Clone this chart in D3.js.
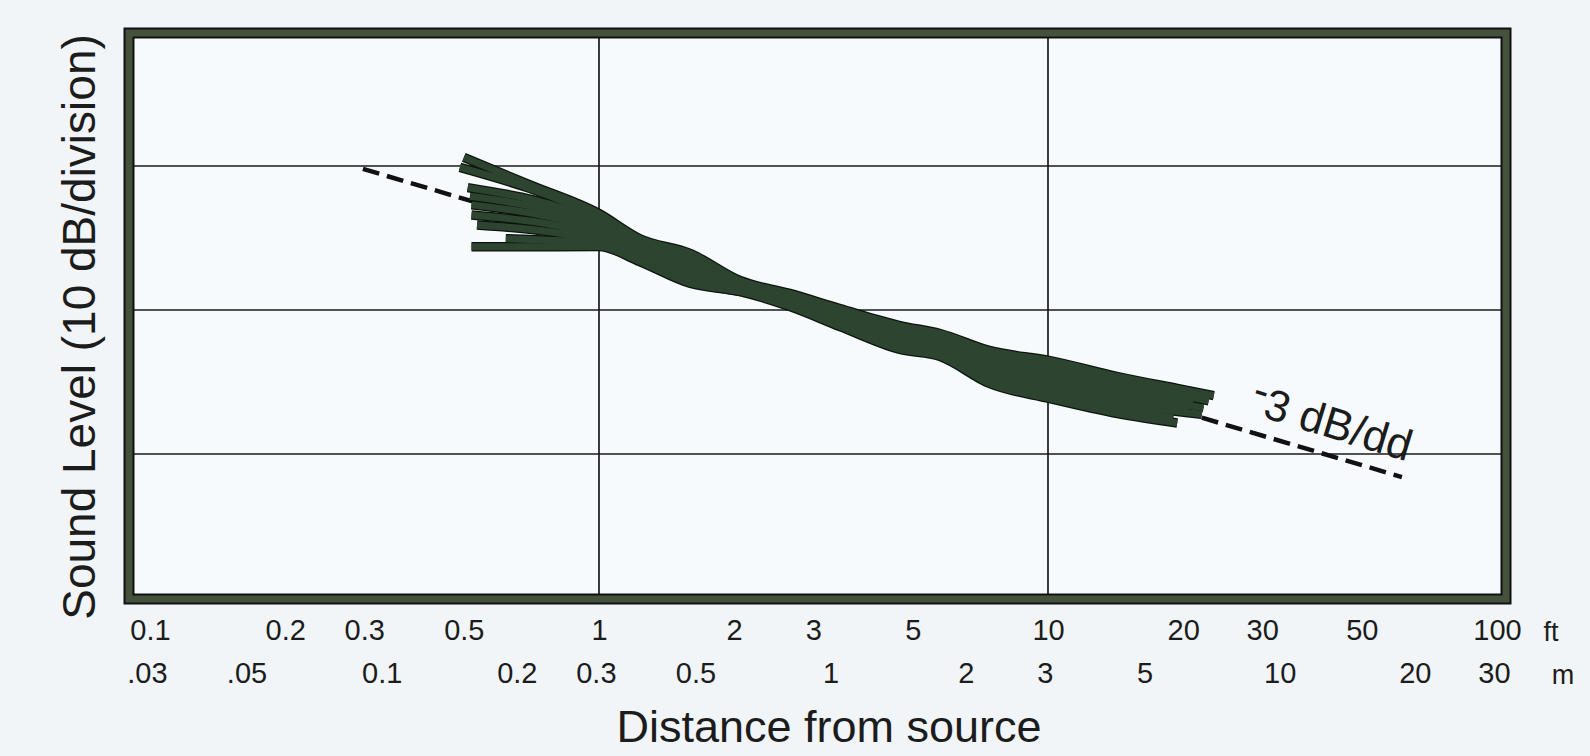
<!DOCTYPE html>
<html>
<head>
<script src="https://d3js.org/d3.v7.min.js"></script>
<style>
  html, body { margin: 0; padding: 0; overflow: hidden; background: #f1f5f8; }
  svg text { font-family: "Liberation Sans", Arial, sans-serif; fill: #1c1c1c; }
</style>
</head>
<body>
<svg id="chart" width="1590" height="756"></svg>
<script>
// tick labels (ft on top row, metres below)
const ftTicks = [0.1, 0.2, 0.3, 0.5, 1, 2, 3, 5, 10, 20, 30, 50, 100];
const ftLabels = ["0.1", "0.2", "0.3", "0.5", "1", "2", "3", "5", "10", "20", "30", "50", "100"];
const mTicks = [0.03, 0.05, 0.1, 0.2, 0.3, 0.5, 1, 2, 3, 5, 10, 20, 30];
const mLabels = [".03", ".05", "0.1", "0.2", "0.3", "0.5", "1", "2", "3", "5", "10", "20", "30"];
const levelGrid = [60, 70, 80];
const distGrid = [1, 10];

// measured curves: [distance ft, level dB]
const curveA = [[0.50, 80.6], [0.7, 78.7], [1.0, 76.7], [1.23, 74.97], [1.6, 73.92], [2.06, 72.05], [2.66, 71.15], [3.44, 70.10], [4.68, 68.92], [5.75, 68.37], [7.4, 67.19], [10.1, 66.49], [14.3, 65.38], [19.4, 64.55], [23.4, 64.05]];
const curveB = [[0.49, 79.9], [1.0, 76.38], [1.23, 74.74], [1.6, 73.63], [2.06, 71.94], [2.66, 71.02], [3.44, 69.93], [4.68, 68.69], [5.75, 68.15], [7.4, 66.87], [10.1, 66.12], [14.3, 65.02], [22.8, 63.7]];
const curveC = [[0.51, 78.5], [1.0, 76.06], [1.23, 74.52], [1.6, 73.34], [2.06, 71.83], [2.66, 70.90], [3.44, 69.76], [4.68, 68.46], [5.75, 67.92], [7.4, 66.55], [10.1, 65.76], [14.3, 64.66], [21.0, 63.45]];
const curveD = [[0.516, 77.9], [1.0, 75.74], [1.23, 74.29], [1.6, 73.05], [2.06, 71.73], [2.66, 70.76], [3.44, 69.58], [4.68, 68.22], [5.75, 67.69], [7.4, 66.22], [10.1, 65.38], [14.3, 64.29], [22.2, 63.2]];
const curveE = [[0.52, 77.3], [1.0, 75.40], [1.23, 74.06], [1.6, 72.74], [2.06, 71.61], [2.66, 70.63], [3.44, 69.39], [4.68, 67.97], [5.75, 67.46], [7.4, 65.88], [10.1, 64.99], [14.3, 63.92], [20.5, 62.95]];
const curveF = [[0.52, 76.6], [1.0, 75.08], [1.23, 73.83], [1.6, 72.44], [2.06, 71.51], [2.66, 70.51], [3.44, 69.22], [4.68, 67.74], [5.75, 67.24], [7.4, 65.56], [10.1, 64.62], [14.3, 63.56], [22.0, 62.75]];
const curveG = [[0.535, 75.9], [1.0, 74.75], [1.23, 73.60], [1.6, 72.15], [2.06, 71.40], [2.66, 70.37], [3.44, 69.04], [4.68, 67.51], [5.75, 67.01], [7.4, 65.24], [10.1, 64.25], [14.3, 63.19], [19.0, 62.5]];
const curveH = [[0.52, 74.4], [0.8, 74.4], [1.0, 74.41], [1.23, 73.37], [1.6, 71.84], [2.06, 71.28], [2.66, 70.24], [3.44, 68.85], [4.68, 67.26], [5.75, 66.77], [7.4, 64.90], [10.1, 63.85], [14.3, 62.81], [19.4, 62.15]];
const curveI = [[0.62, 74.95], [1.0, 74.6], [1.23, 73.5], [1.6, 72.0], [2.06, 71.3]];
const curves = [curveA, curveB, curveC, curveD, curveE, curveF, curveG, curveH, curveI];

// -3 dB per doubling reference
const refLine = [[0.298, 79.8], [61.4, 58.4]];

const svg = d3.select("#chart");
const frame = { left: 129, top: 33, right: 1506, bottom: 599 };

const x = d3.scaleLog().domain([1, 10]).range([599, 1048]);
const xm = d3.scaleLog().domain([1 / 3.2808, 10 / 3.2808]).range([599, 1048]);
const y = d3.scaleLinear().domain([60, 80]).range([454, 166]);

// plot background
svg.append("rect")
  .attr("x", frame.left).attr("y", frame.top)
  .attr("width", frame.right - frame.left).attr("height", frame.bottom - frame.top)
  .attr("fill", "#f7fafc");

svg.append("clipPath").attr("id", "clip")
  .append("rect")
  .attr("x", frame.left + 5).attr("y", frame.top + 5)
  .attr("width", frame.right - frame.left - 10).attr("height", frame.bottom - frame.top - 10);

const plot = svg.append("g").attr("clip-path", "url(#clip)");

// grid
plot.selectAll(".hgrid").data(levelGrid).enter().append("line")
  .attr("x1", frame.left).attr("x2", frame.right)
  .attr("y1", d => y(d)).attr("y2", d => y(d))
  .attr("stroke", "#1a1a1a").attr("stroke-width", 1.7);
plot.selectAll(".vgrid").data(distGrid).enter().append("line")
  .attr("y1", frame.top).attr("y2", frame.bottom)
  .attr("x1", d => x(d)).attr("x2", d => x(d))
  .attr("stroke", "#1a1a1a").attr("stroke-width", 1.7);

// reference dashed line
const line = d3.line().x(d => x(d[0])).y(d => y(d[1]));
plot.append("path").datum(refLine)
  .attr("d", line)
  .attr("fill", "none").attr("stroke", "#111")
  .attr("stroke-width", 4.5).attr("stroke-dasharray", "17,8");

// bundle of measured curves: dark outline first, fill colour on top
const curveLine = d3.line().x(d => x(d[0])).y(d => y(d[1])).curve(d3.curveMonotoneX);
plot.append("g").selectAll("path").data(curves).enter().append("path")
  .attr("d", curveLine)
  .attr("fill", "none").attr("stroke", "#0d140d")
  .attr("stroke-width", 9.5);
plot.append("g").selectAll("path").data(curves).enter().append("path")
  .attr("d", curveLine)
  .attr("fill", "none").attr("stroke", "#2d4530")
  .attr("stroke-width", 7);

// label on the reference line
const lab = svg.append("text")
  .attr("transform", "translate(1327,437) rotate(17)")
  .attr("text-anchor", "middle")
  .attr("font-size", 44);
lab.append("tspan").attr("dy", -11).text("-");
lab.append("tspan").attr("dy", 11).text("3 dB/dd");

// frame
svg.append("rect")
  .attr("x", frame.left).attr("y", frame.top)
  .attr("width", frame.right - frame.left).attr("height", frame.bottom - frame.top)
  .attr("fill", "none").attr("stroke", "#111").attr("stroke-width", 11);
svg.append("rect")
  .attr("x", frame.left).attr("y", frame.top)
  .attr("width", frame.right - frame.left).attr("height", frame.bottom - frame.top)
  .attr("fill", "none").attr("stroke", "#43513d").attr("stroke-width", 7);

// distance axes
const ftAxis = d3.axisBottom(x).tickValues(ftTicks)
  .tickFormat((d, i) => ftLabels[i]).tickSize(0).tickPadding(0);
const mAxis = d3.axisBottom(xm).tickValues(mTicks)
  .tickFormat((d, i) => mLabels[i]).tickSize(0).tickPadding(0);

const gft = svg.append("g").attr("transform", "translate(0,619)").call(ftAxis);
const gm = svg.append("g").attr("transform", "translate(0,662)").call(mAxis);
[gft, gm].forEach(g => {
  g.select(".domain").remove();
  g.selectAll("text").attr("font-size", 29).attr("fill", "#1c1c1c")
    .attr("font-family", "'Liberation Sans', Arial, sans-serif");
});

svg.append("text").attr("x", 1551).attr("y", 641).attr("text-anchor", "middle")
  .attr("font-size", 27).text("ft");
svg.append("text").attr("x", 1563).attr("y", 684).attr("text-anchor", "middle")
  .attr("font-size", 27).text("m");

// axis titles
svg.append("text")
  .attr("x", 829).attr("y", 742)
  .attr("text-anchor", "middle")
  .attr("font-size", 45)
  .text("Distance from source");

svg.append("text")
  .attr("transform", "translate(95,327) rotate(-90)")
  .attr("text-anchor", "middle")
  .attr("font-size", 46)
  .text("Sound Level (10 dB/division)");
</script>
</body>
</html>
